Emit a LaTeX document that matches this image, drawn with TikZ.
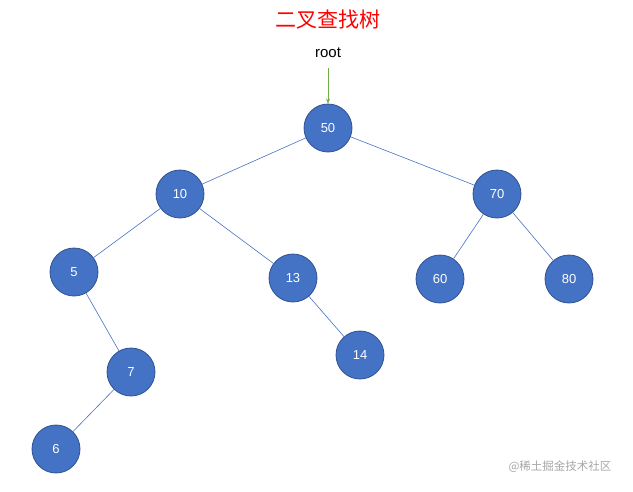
\documentclass[tikz,border=0pt]{standalone}
\usepackage{fontspec}
\setmainfont{Liberation Sans}
\newfontfamily\cjk{Noto Sans CJK SC}
\usetikzlibrary{arrows.meta}
\definecolor{nfill}{HTML}{4472C4}
\definecolor{nedge}{HTML}{2F528F}
\definecolor{arr}{HTML}{70AD47}
\begin{document}
\begin{tikzpicture}[x=1pt,y=-1pt,
  nd/.style={circle,fill=nfill,draw=nedge,line width=0.8pt,minimum size=48pt,inner sep=0pt,text=white,font=\fontsize{13}{15}\selectfont},
  ed/.style={draw=nfill,line width=0.6pt}]
\useasboundingbox (0,0) rectangle (633,491);
\node[text=red,font=\cjk\fontsize{21}{24}\selectfont] (t) at (328,20) {二叉查找树};
\node[font=\fontsize{15}{17}\selectfont] (r) at (328,53) {root};
\node[nd] (n50) at (328,128) {50};
\node[nd] (n10) at (180,194) {10};
\node[nd] (n70) at (497,194) {70};
\node[nd] (n5) at (74,272) {5};
\node[nd] (n13) at (293,278) {13};
\node[nd] (n60) at (440,279) {60};
\node[nd] (n80) at (569,279) {80};
\node[nd] (n7) at (131,372) {7};
\node[nd] (n14) at (360,355) {14};
\node[nd] (n6) at (56,449) {6};
\coordinate (ra) at (328,68);
\draw[draw=arr,line width=0.6pt,-{Stealth[length=5pt,width=4pt]}] (ra) -- (n50.north);
\foreach \a/\b in {n50/n10,n50/n70,n10/n5,n10/n13,n70/n60,n70/n80,n5/n7,n13/n14,n7/n6}
  \draw[ed] (\a) -- (\b);
\node[text=gray!70,font=\cjk\fontsize{11.5}{13}\selectfont] (w) at (560,467) {@稀土掘金技术社区};
\end{tikzpicture}
\end{document}
